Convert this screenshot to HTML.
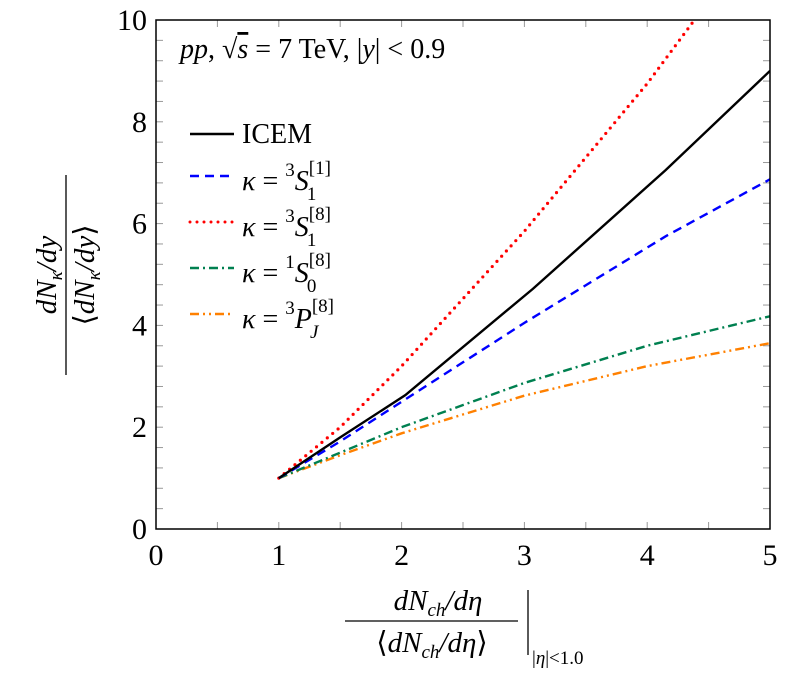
<!DOCTYPE html>
<html><head><meta charset="utf-8"><style>
body{margin:0;background:#fff;width:789px;height:681px;overflow:hidden}
svg text{font-family:"Liberation Serif","DejaVu Serif",serif !important;fill:#000}
</style></head><body>
<svg id="chart" width="789" height="681" xmlns="http://www.w3.org/2000/svg" font-family="Liberation Serif, DejaVu Serif, serif"></svg>
<script>
const xTicks=[0,1,2,3,4,5];
const yTicks=[0,2,4,6,8,10];
const icemX=[1,1.5,2.03,3.07,4.15,5];
const icemY=[1,1.8,2.63,4.72,7.05,9.0];
const s1X=[1,1.5,2,3,4.15,5];
const s1Y=[1,1.72,2.5,4.05,5.75,6.87];
const s8X=[1,1.5,2,3,4,4.4];
const s8Y=[1,2.0,3.2,5.85,8.75,10.05];
const s0X=[1,1.5,2,3,4,5];
const s0Y=[1,1.5,2.0,2.87,3.6,4.18];
const pjX=[1,1.5,2,3,4,5];
const pjY=[1,1.45,1.88,2.62,3.2,3.65];
const L=156,R=770,T=20,B=529;
const sx=v=>L+(v/5)*(R-L), sy=v=>B-(v/10)*(B-T);
const svg=document.getElementById('chart');const NS='http://www.w3.org/2000/svg';
function mk(t,a,p){const e=document.createElementNS(NS,t);for(const k in a)e.setAttribute(k,a[k]);(p||svg).appendChild(e);return e;}
const defs=mk('defs',{});const cp=mk('clipPath',{id:'c'},defs);mk('rect',{x:L,y:T,width:R-L,height:B-T},cp);
for(let v=0.5;v<5;v+=0.5){const x=sx(v);mk('line',{x1:x,y1:B,x2:x,y2:B-7,stroke:'#999','stroke-width':1});mk('line',{x1:x,y1:T,x2:x,y2:T+7,stroke:'#999','stroke-width':1});}
for(let v=0.4;v<10;v+=0.4){const y=sy(v);mk('line',{x1:L,y1:y,x2:L+7,y2:y,stroke:'#999','stroke-width':1});mk('line',{x1:R,y1:y,x2:R-7,y2:y,stroke:'#999','stroke-width':1});}
xTicks.forEach(v=>{const t=mk('text',{x:sx(v),y:B+36,'text-anchor':'middle','font-size':30,'font-family':'Liberation Serif, serif'});t.textContent=v;

});
yTicks.forEach(v=>{const t=mk('text',{x:L-9,y:sy(v)+10,'text-anchor':'end','font-size':30,'font-family':'Liberation Serif, serif'});t.textContent=v;

});
function series(X,Y,col,dash,name,w,cap){const d=X.map((x,i)=>(i?'L':'M')+sx(x)+','+sy(Y[i])).join('');
const p=mk('path',{d:d,fill:'none',stroke:col,'stroke-width':w||2.4,'stroke-dasharray':dash,'clip-path':'url(#c)','stroke-linecap':cap||'butt'});

}
series(pjX,pjY,'#ff8000','9 4 2 4 2 4','series-3pj8');
series(s0X,s0Y,'#008050','9 4 2 4','series-1s08');
series(s8X,s8Y,'#ff0000','0 7','series-3s18',3.2,'round');
series(s1X,s1Y,'#0000ff','9 6','series-3s11');
series(icemX,icemY,'#000','','series-icem');
mk('rect',{x:L,y:T,width:R-L,height:B-T,fill:'none',stroke:'#000','stroke-width':1.5});
</script>
<div style="position:absolute;left:0;top:0">
<svg width="789" height="681" style="position:absolute;left:0;top:0" xmlns="http://www.w3.org/2000/svg" font-family="Liberation Serif, DejaVu Serif, serif">
<text x="180" y="58" font-size="28"><tspan font-style="italic">pp</tspan>, √<tspan font-style="italic" text-decoration="overline">s</tspan> = 7 TeV, |<tspan font-style="italic">y</tspan>| &lt; 0.9</text>
<g><line x1="190" y1="134" x2="234" y2="134" stroke="#000" stroke-width="2.4"/><text x="242" y="143" font-size="28">ICEM</text></g>
<g><line x1="190" y1="176" x2="234" y2="176" stroke="#00f" stroke-width="2.4" stroke-dasharray="9 6"/><text x="242" y="190" font-size="28"><tspan font-style="italic">κ</tspan> = <tspan font-size="19" dy="-14">3</tspan><tspan font-style="italic" dy="14">S</tspan><tspan font-size="19" dy="-16">[1]</tspan><tspan font-size="19" dx="-24" dy="26">1</tspan></text></g>
<g><line x1="190" y1="222" x2="234" y2="222" stroke="#f00" stroke-width="3" stroke-dasharray="0 7" stroke-linecap="round"/><text x="242" y="236" font-size="28"><tspan font-style="italic">κ</tspan> = <tspan font-size="19" dy="-14">3</tspan><tspan font-style="italic" dy="14">S</tspan><tspan font-size="19" dy="-16">[8]</tspan><tspan font-size="19" dx="-24" dy="26">1</tspan></text></g>
<g><line x1="190" y1="268" x2="234" y2="268" stroke="#008050" stroke-width="2.4" stroke-dasharray="9 4 2 4"/><text x="242" y="282" font-size="28"><tspan font-style="italic">κ</tspan> = <tspan font-size="19" dy="-14">1</tspan><tspan font-style="italic" dy="14">S</tspan><tspan font-size="19" dy="-16">[8]</tspan><tspan font-size="19" dx="-24" dy="26">0</tspan></text></g>
<g><line x1="190" y1="314" x2="230" y2="314" stroke="#ff8000" stroke-width="2.4" stroke-dasharray="9 4 2 4 2 4"/><text x="242" y="328" font-size="28"><tspan font-style="italic">κ</tspan> = <tspan font-size="19" dy="-14">3</tspan><tspan font-style="italic" dy="14">P</tspan><tspan font-size="19" dy="-16">[8]</tspan><tspan font-size="19" font-style="italic" dx="-24" dy="26">J</tspan></text></g>
<g transform="translate(66,275) rotate(-90)">
<text x="0" y="-10" text-anchor="middle" font-size="29" font-style="italic">dN<tspan font-size="19" dy="6">κ</tspan><tspan dy="-6">/dy</tspan></text>
<line x1="-100" y1="0" x2="100" y2="0" stroke="#000" stroke-width="1.3"/>
<text x="0" y="28" text-anchor="middle" font-size="29">⟨<tspan font-style="italic">dN</tspan><tspan font-size="19" dy="6" font-style="italic">κ</tspan><tspan dy="-6" font-style="italic">/dy</tspan>⟩</text></g>
<g>
<text x="438" y="610" text-anchor="middle" font-size="29" font-style="italic">dN<tspan font-size="19" dy="6">ch</tspan><tspan dy="-6">/dη</tspan></text>
<line x1="345" y1="621" x2="518" y2="621" stroke="#000" stroke-width="1.3"/>
<text x="432" y="652" text-anchor="middle" font-size="29">⟨<tspan font-style="italic">dN</tspan><tspan font-size="19" dy="6" font-style="italic">ch</tspan><tspan dy="-6" font-style="italic">/dη</tspan>⟩</text>
<line x1="528" y1="590" x2="528" y2="655" stroke="#000" stroke-width="1.3"/>
<text x="532" y="664" font-size="19">|<tspan font-style="italic">η</tspan>|&lt;1.0</text></g>
</svg></div>
</body></html>
